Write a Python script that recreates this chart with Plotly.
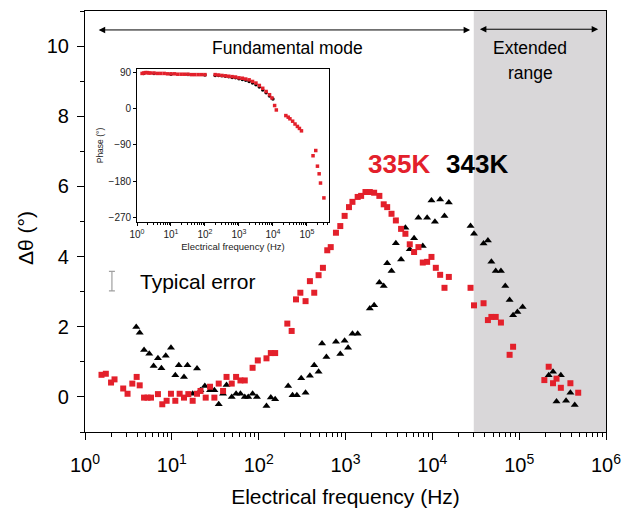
import numpy as np
import plotly.graph_objects as go

# ---------------- data ----------------
# main plot: log10(frequency / Hz) and delta-theta (deg)
exp_335K = [0.19, 0.24, 0.30, 0.34, 0.44, 0.49, 0.545, 0.595, 0.63, 0.68, 0.72, 0.76, 0.84, 0.89,
            0.94, 0.99, 1.04, 1.09, 1.14, 1.19, 1.24, 1.29, 1.33, 1.39, 1.44, 1.49, 1.54, 1.59,
            1.63, 1.69, 1.74, 1.79, 1.84, 1.93, 1.99, 2.09, 2.14, 2.19, 2.33, 2.38, 2.43, 2.48,
            2.54, 2.59, 2.64, 2.69, 2.74, 2.79, 2.83, 2.89, 2.94, 2.99, 3.04, 3.08, 3.14, 3.18,
            3.23, 3.28, 3.33, 3.39, 3.44, 3.48, 3.53, 3.58, 3.64, 3.69, 3.74, 3.79, 3.84, 3.89,
            3.94, 3.99, 4.04, 4.09, 4.14, 4.19, 4.44, 4.48, 4.59, 4.64, 4.68, 4.73, 4.79, 4.89,
            4.93, 5.29, 5.34, 5.39, 5.43, 5.48, 5.59, 5.68]
dtheta_335K = [0.63, 0.66, 0.41, 0.50, 0.24, 0.09, 0.38, 0.57, 0.33, -0.02, -0.02, -0.02, 0.08, -0.21,
               -0.11, 0.09, -0.11, 0.09, -0.02, 0.08, -0.11, 0.09, 0.17, -0.02, 0.29, -0.02, 0.38, 0.17,
               0.57, 0.38, 0.57, 0.47, 0.47, 0.83, 1.04, 1.10, 1.25, 1.25, 2.09, 1.88, 2.78, 2.97,
               2.73, 3.30, 2.97, 3.47, 3.68, 4.18, 4.27, 4.68, 4.87, 5.16, 5.41, 5.56, 5.70, 5.73,
               5.84, 5.84, 5.82, 5.73, 5.49, 5.41, 5.22, 5.03, 4.79, 4.65, 4.35, 4.13, 4.27, 3.83,
               3.85, 3.99, 3.68, 3.48, 3.11, 3.42, 3.11, 2.61, 2.67, 2.19, 2.28, 2.28, 2.12, 1.20,
               1.43, 0.48, 0.86, 0.39, 0.52, 0.26, 0.39, 0.12]

exp_343K = [0.59, 0.63, 0.68, 0.74, 0.79, 0.84, 0.88, 0.93, 0.99, 1.04, 1.08, 1.14, 1.18, 1.24,
            1.29, 1.33, 1.38, 1.44, 1.49, 1.54, 1.59, 1.63, 1.69, 1.74, 1.79, 1.84, 1.88, 1.93,
            1.98, 2.09, 2.14, 2.19, 2.34, 2.39, 2.44, 2.49, 2.54, 2.59, 2.64, 2.69, 2.73, 2.78,
            2.89, 2.94, 2.99, 3.03, 3.08, 3.14, 3.28, 3.33, 3.39, 3.44, 3.48, 3.53, 3.58, 3.64,
            3.69, 3.74, 3.79, 3.84, 3.89, 3.94, 3.99, 4.03, 4.09, 4.14, 4.19, 4.44, 4.48, 4.59,
            4.64, 4.68, 4.73, 4.79, 4.84, 4.89, 4.93, 4.98, 5.04, 5.34, 5.39, 5.43, 5.48, 5.54,
            5.59, 5.64]
dtheta_343K = [1.99, 1.83, 1.34, 1.23, 0.88, 1.10, 0.82, 1.17, 1.40, 0.62, 0.90, 0.57, 0.90, 0.09,
               0.81, 0.19, 0.31, 0.19, 0.19, -0.21, 0.09, 0.34, 0.00, 0.09, 0.09, 0.00, 0.00, 0.09,
               0.00, -0.26, -0.02, -0.07, 0.31, 0.05, 0.05, 0.53, 0.12, 0.60, 0.90, 0.72, 1.52, 1.14,
               1.57, 1.22, 1.60, 1.40, 1.80, 1.80, 2.52, 2.61, 3.26, 3.16, 3.81, 3.59, 4.38, 3.92,
               4.82, 4.21, 4.52, 5.11, 4.30, 5.11, 5.60, 4.99, 5.63, 5.16, 5.54, 4.87, 4.65, 4.37,
               4.46, 3.85, 3.59, 3.59, 3.16, 2.76, 2.33, 2.42, 2.56, 0.62, 0.72, -0.13, 0.62, -0.11,
               0.12, -0.23]

# typical error bar
typical_error_exp = [0.31]
typical_error_y = [3.3]
typical_error_half = [0.28]

# inset: phase (deg) vs log10(frequency)
inset_exp_335K = [0.15, 0.2, 0.25, 0.3, 0.35, 0.4, 0.5, 0.6, 0.7, 0.8, 0.9, 1.0, 1.1, 1.2, 1.3, 1.4,
                  1.5, 1.6, 1.7, 1.8, 1.9, 2.0, 2.3, 2.4, 2.5, 2.6, 2.7, 2.8, 2.9, 3.0, 3.1, 3.2,
                  3.3, 3.4, 3.5, 3.6, 3.7, 3.8, 3.9, 3.97, 4.05, 4.1, 4.38, 4.45, 4.5, 4.58, 4.65,
                  4.72, 4.78, 4.84, 5.18, 5.26, 5.31, 5.36, 5.40, 5.50]
inset_phase_335K = [88, 89, 90, 90, 89, 89, 89, 88, 88, 88, 87, 87, 87, 86, 86, 86,
                    86, 85, 85, 85, 85, 85, 85, 84, 83, 82, 81, 80, 79, 77, 76, 74,
                    72, 68, 64, 58, 51, 43, 35, 27, 8, -3, -17, -21, -25, -31, -38,
                    -44, -49, -55, -117, -104, -143, -162, -185, -222]
inset_exp_343K = [0.2, 0.5, 1.0, 1.5, 2.0, 2.3, 2.4, 2.5, 2.6, 2.7, 2.8, 2.9, 3.0, 3.1, 3.2, 3.3,
                  3.4, 3.5, 3.6, 3.7, 3.8, 3.9, 4.0]
inset_phase_343K = [88, 88, 86, 85, 84, 83, 83, 82, 81, 80, 78, 77, 75, 73, 71, 68,
                    64, 60, 54, 47, 40, 32, 24]

x_tick_exps = [0, 1, 2, 3, 4, 5, 6]
x_tick_labels = ["10<sup>%d</sup>" % e for e in x_tick_exps]
inset_tick_exps = [0, 1, 2, 3, 4, 5]
inset_tick_labels = ["10<sup>%d</sup>" % e for e in inset_tick_exps]
inset_phase_ticks = [90, 0, -90, -180, -270]

extended_range_start = 3e4  # Hz
extended_range_end = 1e6

# ---------------- figure ----------------
RED = "#e3202b"
BLACK = "#000000"
FONT = "Liberation Sans, Arial, sans-serif"
W, H = 623, 512
L, R, T, B = 85, 17, 11, 80
PW, PH = W - L - R, H - T - B


def px_x(px):
    return (px - L) / PW


def px_y(py):
    return (H - B - py) / PH


def f(e):
    return np.power(10.0, np.array(e, dtype=float))


fig = go.Figure()

fig.add_trace(go.Scatter(x=f(exp_343K), y=dtheta_343K, mode="markers",
                         marker=dict(symbol="triangle-up", size=7, color=BLACK),
                         showlegend=False, hoverinfo="skip"))
fig.add_trace(go.Scatter(x=f(exp_335K), y=dtheta_335K, mode="markers",
                         marker=dict(symbol="square", size=6, color=RED),
                         showlegend=False, hoverinfo="skip"))
fig.add_trace(go.Scatter(x=f(typical_error_exp), y=typical_error_y, mode="markers",
                         marker=dict(size=1, color="rgba(0,0,0,0)"),
                         error_y=dict(type="data", array=typical_error_half, color="#a0a0a0",
                                      thickness=1.2, width=3),
                         showlegend=False, hoverinfo="skip"))

# inset
fig.add_trace(go.Scatter(x=f(inset_exp_343K), y=inset_phase_343K, mode="markers",
                         xaxis="x2", yaxis="y2",
                         marker=dict(symbol="circle", size=3.5, color=BLACK),
                         showlegend=False, hoverinfo="skip"))
fig.add_trace(go.Scatter(x=f(inset_exp_335K), y=inset_phase_335K, mode="markers",
                         xaxis="x2", yaxis="y2",
                         marker=dict(symbol="square", size=3.5, color=RED),
                         showlegend=False, hoverinfo="skip"))

x_lo, x_hi = 0, 6
gray_x0 = (np.log10(extended_range_start) - x_lo) / (x_hi - x_lo)
gray_x1 = (np.log10(extended_range_end) - x_lo) / (x_hi - x_lo)

shapes = [
    dict(type="rect", xref="paper", yref="paper", x0=gray_x0, x1=gray_x1, y0=0, y1=1,
         fillcolor="#d9d7d9", line=dict(width=0), layer="below"),
    # inset background
    dict(type="rect", xref="paper", yref="paper", x0=px_x(137), x1=px_x(329),
         y0=px_y(222), y1=px_y(69), fillcolor="white", line=dict(width=0), layer="below"),
]

annotations = []
# double arrows
for (a, b, yv) in [(0.14, 4.435, 10.46), (4.53, 5.91, 10.48)]:
    annotations.append(dict(x=b, y=yv, ax=a, ay=yv, xref="x", yref="y", axref="x", ayref="y",
                            showarrow=True, arrowhead=2, startarrowhead=2, arrowside="end+start",
                            arrowsize=1.3, startarrowsize=1.3, arrowwidth=1, arrowcolor="black", text=""))


def txt(s, px, py, size, color="black", bold=False, angle=0, xanchor="center"):
    annotations.append(dict(text=("<b>%s</b>" % s) if bold else s, x=px_x(px), y=px_y(py),
                            xref="paper", yref="paper", showarrow=False, textangle=angle,
                            xanchor=xanchor, yanchor="middle",
                            font=dict(family=FONT, size=size, color=color)))


txt("Fundamental mode", 287, 48, 17.5)
txt("Extended", 530, 48, 17.5)
txt("range", 530, 73, 17.5)
txt("335K", 399, 164, 26, color=RED, bold=True)
txt("343K", 477, 164, 26, color=BLACK, bold=True)
txt("Typical error", 138, 282, 21, xanchor="left")
txt("Δθ (°)", 25, 238, 21, angle=-90)

axis_common = dict(showline=True, linecolor="black", linewidth=1.2, mirror=True,
                   showgrid=False, zeroline=False, ticks="outside", tickcolor="black")

fig.update_layout(
    width=W, height=H,
    margin=dict(l=L, r=R, t=T, b=B, pad=0),
    paper_bgcolor="white", plot_bgcolor="rgba(0,0,0,0)",
    font=dict(family=FONT, color="black"),
    shapes=shapes, annotations=annotations,
    xaxis=dict(type="log", range=[x_lo, x_hi], tickvals=f(x_tick_exps).tolist(),
               ticktext=x_tick_labels, ticklen=7, ticklabelstandoff=8,
               tickfont=dict(size=20, family=FONT),
               minor=dict(ticks="outside", ticklen=4, dtick="D1", tickcolor="black", showgrid=False),
               title=dict(text="Electrical frequency (Hz)", font=dict(size=21, family=FONT), standoff=14),
               automargin=False, **axis_common),
    yaxis=dict(range=[-1, 11], tickvals=[0, 2, 4, 6, 8, 10], ticklen=7, ticklabelstandoff=4,
               tickfont=dict(size=20, family=FONT),
               minor=dict(ticks="outside", ticklen=4, dtick=1, tickcolor="black", showgrid=False),
               automargin=False, **axis_common),
    xaxis2=dict(type="log", range=[0, 5.65], domain=[px_x(137), px_x(329)], anchor="y2",
                tickvals=f(inset_tick_exps).tolist(), ticktext=inset_tick_labels, ticklen=3,
                tickfont=dict(size=10, family=FONT, color="#222"),
                minor=dict(ticks="outside", ticklen=2, dtick="D1", tickcolor="black", showgrid=False),
                title=dict(text="Electrical frequency (Hz)", font=dict(size=9.5, family=FONT, color="#222"),
                           standoff=4),
                showline=True, linecolor="black", linewidth=0.8, mirror=True, showgrid=False,
                zeroline=False, ticks="outside", tickcolor="black", automargin=False),
    yaxis2=dict(range=[-282, 99], domain=[px_y(222), px_y(69)], anchor="x2",
                tickvals=inset_phase_ticks, ticklen=3,
                tickfont=dict(size=10, family=FONT, color="#222"),
                title=dict(text="Phase (°)", font=dict(size=8.5, family=FONT, color="#222"), standoff=3),
                showline=True, linecolor="black", linewidth=0.8, mirror=True, showgrid=False,
                zeroline=False, ticks="outside", tickcolor="black", automargin=False),
)

fig.write_html("out.html", config={"displayModeBar": False},
               post_script="document.body.style.margin='0';document.body.style.padding='0';")
